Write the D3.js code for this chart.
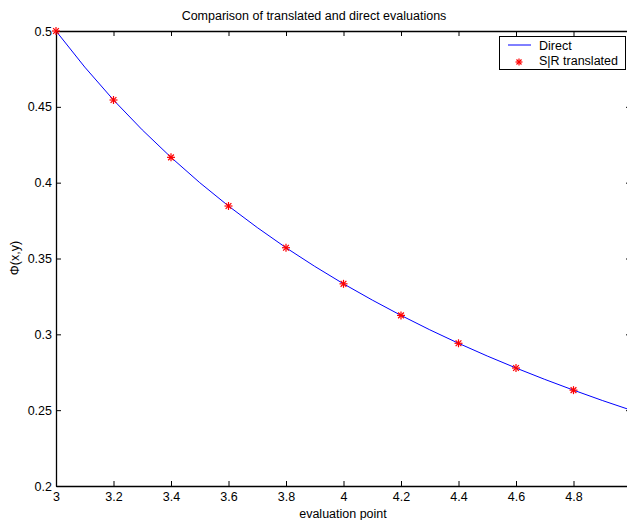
<!DOCTYPE html>
<html><head><meta charset="utf-8">
<script src="https://cdn.jsdelivr.net/npm/d3@7"></script>
<style>body{margin:0;background:#fff;} text{font-family:"Liberation Sans",Arial,sans-serif;}</style>
</head><body>
<svg id="c" width="627" height="520"></svg>
<script>
const lineX = [3.0,3.1,3.2,3.3,3.4,3.5,3.6,3.7,3.8,3.9,4.0,4.1,4.2,4.3,4.4,4.5,4.6,4.7,4.8,4.9,5.0];
const lineY = [0.5,0.4762,0.4545,0.4348,0.4167,0.4,0.3846,0.3704,0.3571,0.3448,0.3333,0.3226,0.3125,0.3030,0.2941,0.2857,0.2778,0.2703,0.2632,0.2564,0.25];
const markX = [3.0,3.2,3.4,3.6,3.8,4.0,4.2,4.4,4.6,4.8];
const markY = [0.5,0.4545,0.4167,0.3846,0.3571,0.3333,0.3125,0.2941,0.2778,0.2632];
const xTicks = [3,3.2,3.4,3.6,3.8,4,4.2,4.4,4.6,4.8];
const yTicks = [0.2,0.25,0.3,0.35,0.4,0.45,0.5];

const FS = 12.5;
const svg = d3.select("#c");
const L=56, R=631, T=31, B=486;
const x = d3.scaleLinear().domain([3,5]).range([L,R]);
const y = d3.scaleLinear().domain([0.2,0.5]).range([B,T]);

const fmt = d => String(+d.toFixed(2));
svg.append("g").attr("transform",`translate(0,${B})`)
  .call(d3.axisBottom(x).tickValues(xTicks).tickFormat(fmt).tickSizeInner(-5).tickSizeOuter(0).tickPadding(6))
  .call(g=>g.selectAll("text").attr("font-size",FS).attr("fill","#000"));
svg.append("g").attr("transform",`translate(0,${T})`)
  .call(d3.axisTop(x).tickValues(xTicks).tickFormat("").tickSizeInner(-5).tickSizeOuter(0));
svg.append("g").attr("transform",`translate(${L},0)`)
  .call(d3.axisLeft(y).tickValues(yTicks).tickFormat(fmt).tickSizeInner(-5).tickSizeOuter(0).tickPadding(4))
  .call(g=>g.selectAll("text").attr("font-size",FS).attr("fill","#000"));
svg.append("g").attr("transform",`translate(${R},0)`)
  .call(d3.axisRight(y).tickValues(yTicks).tickFormat("").tickSizeInner(-5).tickSizeOuter(0));
svg.selectAll(".domain").attr("stroke","#000").attr("stroke-width",1.3);
svg.selectAll(".tick line").attr("stroke","#000");

svg.append("path").datum(lineX.map((d,i)=>[d,lineY[i]]))
  .attr("d", d3.line().x(d=>x(d[0])).y(d=>y(d[1])))
  .attr("fill","none").attr("stroke","#0000ff").attr("stroke-width",1);

function star(g, cx, cy, s){
  const a = g.append("g").attr("transform",`translate(${cx},${cy})`).attr("stroke","#ff0000").attr("stroke-width",1.2);
  a.append("line").attr("x1",-s).attr("x2",s).attr("y1",0).attr("y2",0);
  a.append("line").attr("x1",0).attr("x2",0).attr("y1",-s).attr("y2",s);
  const k=s*0.72;
  a.append("line").attr("x1",-k).attr("x2",k).attr("y1",-k).attr("y2",k);
  a.append("line").attr("x1",-k).attr("x2",k).attr("y1",k).attr("y2",-k);
}
const mg = svg.append("g");
markX.forEach((d,i)=>star(mg, x(d), y(markY[i]), 4));

svg.append("text").attr("x",314).attr("y",20).attr("text-anchor","middle").attr("font-size",FS).text("Comparison of translated and direct evaluations");
svg.append("text").attr("x",343).attr("y",518).attr("text-anchor","middle").attr("font-size",FS).text("evaluation point");
svg.append("text").attr("transform","translate(19,258) rotate(-90)").attr("text-anchor","middle").attr("font-size",FS).text("Φ(x,y)");

const lg = svg.append("g");
lg.append("rect").attr("x",499.5).attr("y",36.5).attr("width",126).attr("height",33).attr("fill","#fff").attr("stroke","#000").attr("stroke-width",1);
lg.append("line").attr("x1",508).attr("x2",531).attr("y1",45).attr("y2",45).attr("stroke","#0000ff");
lg.append("text").attr("x",539).attr("y",50).attr("font-size",FS).text("Direct");
star(lg, 519, 62, 3.5);
lg.append("text").attr("x",539).attr("y",65).attr("font-size",FS).text("S|R translated");
</script>
</body></html>
